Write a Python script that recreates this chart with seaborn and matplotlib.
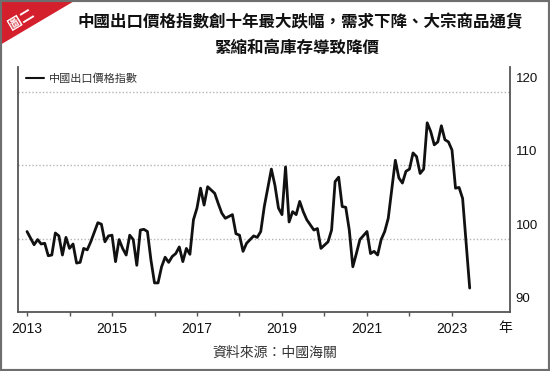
import matplotlib
matplotlib.use("Agg")
import matplotlib.pyplot as plt
import seaborn as sns
import pandas as pd
from matplotlib.transforms import ScaledTranslation
from matplotlib.patches import Polygon, Rectangle
from matplotlib.font_manager import FontProperties

# ---------------- data ----------------
months = [
    "2013-01", "2013-03", "2013-04", "2013-05", "2013-06", "2013-07", "2013-08", "2013-09",
    "2013-10", "2013-11", "2013-12", "2014-01", "2014-02", "2014-03", "2014-04", "2014-05",
    "2014-06", "2014-07", "2014-09", "2014-10", "2014-11", "2014-12", "2015-01", "2015-02",
    "2015-03", "2015-04", "2015-05", "2015-06", "2015-07", "2015-08", "2015-09", "2015-10",
    "2015-11", "2015-12", "2016-01", "2016-02", "2016-03", "2016-04", "2016-05", "2016-06",
    "2016-07", "2016-08", "2016-09", "2016-10", "2016-11", "2016-12", "2017-01", "2017-02",
    "2017-03", "2017-04", "2017-06", "2017-07", "2017-08", "2017-09", "2017-11", "2017-12",
    "2018-01", "2018-02", "2018-03", "2018-05", "2018-06", "2018-07", "2018-08", "2018-10",
    "2018-11", "2018-12", "2019-01", "2019-02", "2019-03", "2019-04", "2019-05", "2019-06",
    "2019-07", "2019-08", "2019-10", "2019-11", "2019-12", "2020-02", "2020-03", "2020-04",
    "2020-05", "2020-06", "2020-07", "2020-08", "2020-09", "2020-10", "2020-11", "2021-01",
    "2021-02", "2021-03", "2021-04", "2021-05", "2021-06", "2021-07", "2021-09", "2021-10",
    "2021-11", "2021-12", "2022-01", "2022-02", "2022-03", "2022-04", "2022-05", "2022-06",
    "2022-07", "2022-08", "2022-09", "2022-10", "2022-11", "2022-12", "2023-01", "2023-02",
    "2023-03", "2023-04", "2023-06",
]
values = [
    101.0, 99.2, 99.9, 99.3, 99.4, 97.7, 97.8, 100.8,
    100.4, 97.8, 100.2, 98.7, 99.3, 96.7, 96.8, 98.7,
    98.5, 99.6, 102.2, 102.0, 99.6, 100.4, 100.5, 96.9,
    99.9, 98.7, 97.8, 100.5, 99.9, 96.4, 101.2, 101.3,
    101.0, 97.1, 94.0, 94.0, 96.2, 97.5, 96.8, 97.6,
    98.0, 98.9, 96.9, 98.7, 97.9, 102.6, 104.2, 106.9,
    104.6, 107.1, 106.2, 104.8, 103.5, 102.8, 103.3, 100.7,
    100.5, 98.3, 99.4, 100.4, 100.2, 101.0, 104.4, 109.5,
    107.3, 104.2, 103.3, 109.8, 102.3, 103.7, 103.3, 105.1,
    103.7, 102.6, 101.2, 101.4, 98.7, 99.6, 101.2, 107.8,
    108.4, 104.4, 104.3, 101.2, 96.2, 98.0, 99.9, 101.0,
    98.0, 98.3, 97.8, 99.9, 101.0, 102.8, 110.7, 108.3,
    107.6, 109.2, 109.5, 111.7, 111.2, 108.9, 109.5, 115.8,
    114.6, 112.8, 113.2, 115.4, 113.5, 113.2, 112.1, 106.9,
    107.0, 105.5, 93.3,
]
series_name = "中國出口價格指數"
title_lines = ["中國出口價格指數創十年最大跌幅，需求下降、大宗商品通貨",
               "緊縮和高庫存導致降價"]
badge = "圖二"
source_text = "資料來源：中國海關"
x_unit = "年"
xtick_years = list(range(2013, 2024))
xtick_labels = [str(y) if y % 2 == 1 else "" for y in xtick_years]
ytick_vals = [90, 100, 110, 120]
ytick_labels = [str(v) for v in ytick_vals]

# ---------------- style ----------------
sns.set_theme(style="white")
plt.rcParams["font.family"] = ["Liberation Sans", "Noto Sans CJK TC", "DejaVu Sans"]
CJK = ["Noto Sans CJK TC", "DejaVu Sans"]

W, H = 550, 371
fig = plt.figure(figsize=(W / 100, H / 100), dpi=100)
fig.patch.set_facecolor("white")

ax_l, ax_r, ax_t, ax_b = 18, 510, 67, 312.3
ax = fig.add_axes([ax_l / W, 1 - ax_b / H, (ax_r - ax_l) / W, (ax_b - ax_t) / H])

df = pd.DataFrame({
    "year": [int(s[:4]) + (int(s[5:]) - 1) / 12 for s in months],
    "value": values,
    "series": series_name,
})
sns.lineplot(data=df, x="year", y="value", hue="series", palette=["#111111"],
             linewidth=2.0, ax=ax)

ax.set_xlim(2012.788, 2024.365)
ax.set_ylim(90, 123.4)
ax.set_xlabel("")
ax.set_ylabel("")

ax.set_xticks(xtick_years)
ax.set_xticklabels(xtick_labels)
ax.tick_params(axis="x", direction="out", length=3, width=1, color="#555555",
               pad=4, labelsize=10, labelcolor="#111111", bottom=True)

ax.yaxis.tick_right()
ax.set_yticks(ytick_vals)
ax.set_yticklabels(ytick_labels)
ax.tick_params(axis="y", length=0, pad=4, labelsize=9.5, labelcolor="#111111")
shift = ScaledTranslation(0, 14.5 / 100, fig.dpi_scale_trans)
for lbl in ax.get_yticklabels():
    lbl.set_transform(lbl.get_transform() + shift)

ax.grid(False)
ax.yaxis.grid(True, color="#b5b5b5", linestyle=(0, (1, 1.5)), linewidth=1)

ax.spines["top"].set_visible(False)
for s in ["left", "right", "bottom"]:
    ax.spines[s].set_color("#555555")
    ax.spines[s].set_linewidth(1.3)

leg = ax.legend(loc="upper left", bbox_to_anchor=(8 / 492, 1 - 6 / 245.3),
                frameon=False, handlelength=1.6, handletextpad=0.5,
                borderpad=0, borderaxespad=0,
                prop=FontProperties(family=CJK, size=8))
for t in leg.get_texts():
    t.set_color("#333333")
for l in leg.get_lines():
    l.set_linewidth(1.5)

# titles
fig.text(300 / W, 1 - 22 / H, title_lines[0], ha="center", va="center",
         fontsize=11.9, fontweight="bold", family=CJK, color="#111111")
fig.text(297 / W, 1 - 48 / H, title_lines[1], ha="center", va="center",
         fontsize=11.9, fontweight="bold", family=CJK, color="#111111")

# red corner badge
fig.patches.append(Polygon([(0, 1), (76 / W, 1), (0, 1 - 45 / H)], closed=True,
                           transform=fig.transFigure, facecolor="#d4202c",
                           edgecolor="none", zorder=5))
fig.text(21 / W, 1 - 20 / H, badge, ha="center", va="center", rotation=31,
         fontsize=10, fontweight="bold", family=CJK, color="white", zorder=6)

# unit and source
fig.text(505 / W, 1 - 328 / H, x_unit, ha="center", va="center",
         fontsize=10, family=CJK, color="#111111")
fig.text(275 / W, 1 - 353 / H, source_text, ha="center", va="center",
         fontsize=10, family=CJK, color="#333333")

# outer border
fig.patches.append(Rectangle((0, 0), 1, 1, transform=fig.transFigure, fill=False,
                             edgecolor="#6e6e6e", linewidth=3, zorder=10))

fig.savefig("out.png", dpi=100)
